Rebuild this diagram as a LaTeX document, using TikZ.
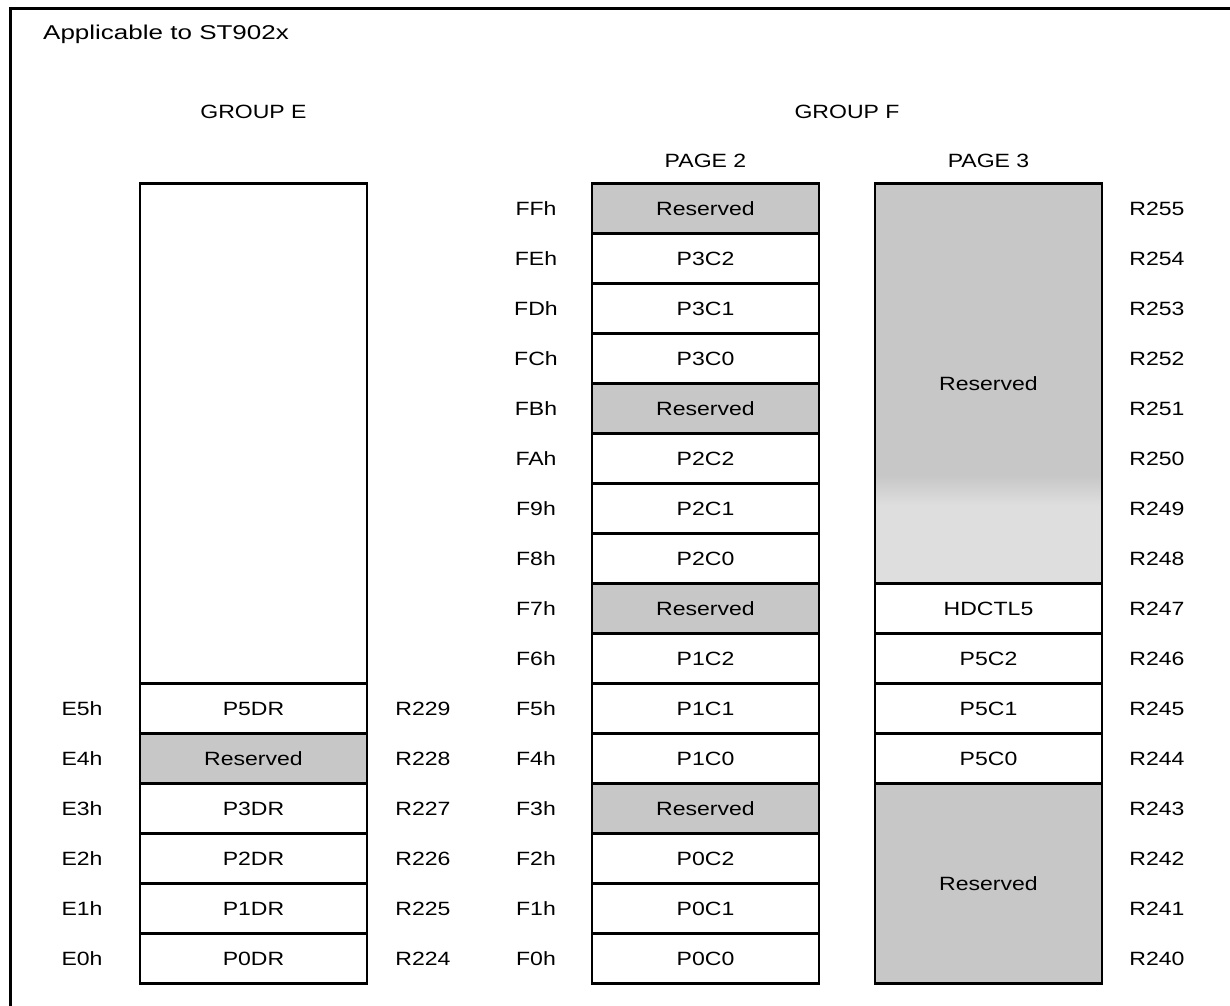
\documentclass[tikz,border=0pt]{standalone}
\usepackage{fontspec}
\setmainfont{Liberation Sans}[FakeStretch=1.2]
\newfontfamily\titlefam{Liberation Sans}[FakeStretch=1.3]
\newcommand\cellfont{\fontsize{19.2}{23}\selectfont}
\newcommand\titlefont{\titlefam\fontsize{20}{24}\selectfont}
\definecolor{dither}{gray}{0.78}
\definecolor{ditherlt}{gray}{0.87}
\tikzset{
  cell/.style={draw, line width=2.7pt, minimum width=227pt, minimum height=50pt,
    inner sep=0pt, font=\cellfont, text height=13.7pt, text depth=0pt},
  resv/.style={cell, fill=dither},
  lbl/.style={font=\cellfont, inner sep=0pt, text height=13.7pt, text depth=0pt},
  frameline/.style={line width=3.2pt, line join=miter},
}
\begin{document}
\begin{tikzpicture}[x=1pt,y=-1pt]
\useasboundingbox (0,0) rectangle (1230,1005);
% outer frame (top and left)
\draw[frameline] (1232,8.5) -- (10.5,8.5) -- (10.5,1007);
% title and headers
\node[font=\titlefont, anchor=west, inner sep=0pt, text height=14.3pt, text depth=0pt] (title) at (43,32) {Applicable to ST902x};
\node[lbl] (grpE) at (253.5,112) {GROUP E};
\node[lbl] (grpF) at (847,112) {GROUP F};
\node[lbl] (pg2) at (705.5,161) {PAGE 2};
\node[lbl] (pg3) at (988.5,161) {PAGE 3};
% group E
\node[cell, minimum height=500pt] (eblank) at (253.5,433.5) {};
\foreach \i/\n/\s in {0/P0DR/cell,1/P1DR/cell,2/P2DR/cell,3/P3DR/cell,4/Reserved/resv,5/P5DR/cell}{
  \node[\s] (e\i) at (253.5,{958.5-50*\i}) {\n};
  \node[lbl] (eh\i) at (82,{958.5-50*\i}) {E\i h};
  \node[lbl] (er\i) at (423,{958.5-50*\i}) {R\number\numexpr224+\i\relax};
}
% group F page 2
\foreach \i/\n/\s in {0/P0C0/cell,1/P0C1/cell,2/P0C2/cell,3/Reserved/resv,
  4/P1C0/cell,5/P1C1/cell,6/P1C2/cell,7/Reserved/resv,
  8/P2C0/cell,9/P2C1/cell,10/P2C2/cell,11/Reserved/resv,
  12/P3C0/cell,13/P3C1/cell,14/P3C2/cell,15/Reserved/resv}{
  \node[\s] (f\i) at (705.5,{958.5-50*\i}) {\n};
  \node[lbl] (fr\i) at (1157,{958.5-50*\i}) {R\number\numexpr240+\i\relax};
}
\foreach \h [count=\i from 0] in {0,1,2,3,4,5,6,7,8,9,A,B,C,D,E,F}{
  \node[lbl] (fh\i) at (536,{958.5-50*\i}) {F\h h};
}
% group F page 3
\fill[fill=dither] (875,183.5) rectangle (1102,475);
\shade[top color=dither, bottom color=ditherlt] (875,475) rectangle (1102,505);
\fill[fill=ditherlt] (875,505) rectangle (1102,583.5);
\node[cell, minimum height=400pt] (g8) at (988.5,383.5) {Reserved};
\foreach \i/\n in {4/P5C0,5/P5C1,6/P5C2,7/HDCTL5}{
  \node[cell] (g\i) at (988.5,{958.5-50*\i}) {\n};
}
\node[resv, minimum height=200pt] (g0) at (988.5,883.5) {Reserved};
\end{tikzpicture}
\end{document}
